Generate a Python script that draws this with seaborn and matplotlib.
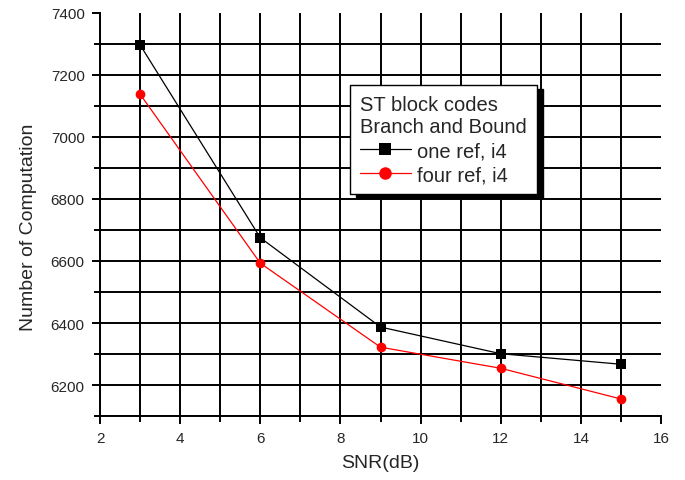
import pandas as pd
import seaborn as sns
import matplotlib.pyplot as plt
from matplotlib.ticker import MultipleLocator

snr = [3, 6, 9, 12, 15]
one_ref = [7297, 6675, 6387, 6301, 6267]
four_ref = [7138, 6593, 6322, 6254, 6155]
series_names = ['one ref, i4', 'four ref, i4']

df = pd.DataFrame({
    'SNR': snr * 2,
    'value': one_ref + four_ref,
    'series': [series_names[0]] * len(snr) + [series_names[1]] * len(snr),
})

sns.set_style('ticks')
plt.rcParams['font.family'] = ['Liberation Sans', 'DejaVu Sans']

fig = plt.figure(figsize=(6.85, 4.81), dpi=100)
ax = fig.add_axes([0.146, 0.133, 0.819, 0.838])

sns.lineplot(data=df, x='SNR', y='value', hue='series', style='series',
             palette={series_names[0]: 'black', series_names[1]: 'red'},
             markers={series_names[0]: 's', series_names[1]: 'o'},
             dashes=False, linewidth=0.9, markersize=7, markeredgewidth=0,
             ax=ax, zorder=3)

ax.set_xlim(2, 16)
ax.set_ylim(6100, 7400)
ax.xaxis.set_major_locator(MultipleLocator(2))
ax.xaxis.set_minor_locator(MultipleLocator(1))
ax.yaxis.set_major_locator(MultipleLocator(200))
ax.yaxis.set_minor_locator(MultipleLocator(100))
ax.grid(which='both', color='black', linewidth=1.4)
ax.tick_params(which='major', length=6, width=1.4, labelsize=11, color='black', pad=5)
ax.tick_params(which='minor', length=4, width=1.4, color='black')
for s in ['top', 'right']:
    ax.spines[s].set_visible(False)
for s in ['left', 'bottom']:
    ax.spines[s].set_linewidth(1.4)
    ax.spines[s].set_color('black')

# no grid line at the right and top limits
fig.canvas.draw()
for tick in ax.xaxis.get_major_ticks():
    if tick.get_loc() >= 16:
        tick.gridline.set_visible(False)
for tick in ax.yaxis.get_major_ticks():
    if tick.get_loc() >= 7400:
        tick.gridline.set_visible(False)

ax.set_xlabel('SNR(dB)', fontsize=14, labelpad=6)
ax.set_ylabel('Number of Computation', fontsize=14)
ax.yaxis.set_label_coords(-0.112, 0.47)

leg = ax.legend(title='ST block codes\nBranch and Bound', loc='upper left',
                bbox_to_anchor=(0.446, 0.821), borderaxespad=0, fancybox=False,
                frameon=True, edgecolor='black', fontsize=14.5, title_fontsize=14.5,
                alignment='left', handlelength=2.5, handletextpad=0.3,
                labelspacing=0.25, borderpad=0.5,
                shadow={'color': 'black', 'alpha': 1, 'ox': 4, 'oy': -3})
leg.get_frame().set_linewidth(1.0)
leg.get_frame().set_alpha(1)
leg.set_zorder(5)
for h in leg.legend_handles:
    h.set_markersize(9)

fig.savefig('out.png', dpi=100)
